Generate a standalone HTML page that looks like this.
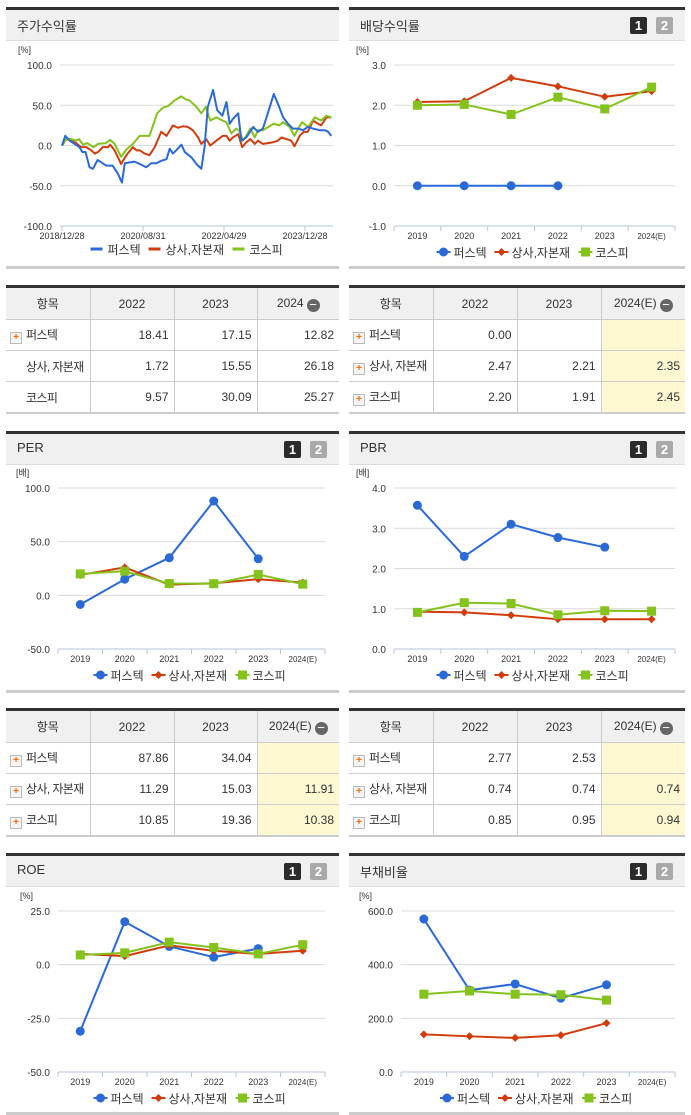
<!DOCTYPE html>
<html><head><meta charset="utf-8">
<style>
body{margin:0;width:691px;height:1115px;background:#fff;position:relative;overflow:hidden;font-family:"Liberation Sans","Noto Sans CJK KR",sans-serif;color:#333}
.panel{position:absolute;box-sizing:border-box;border-top:3px solid #333;border-bottom:3px solid #ccc;background:#fff}
.hdr{height:30px;background:#f0f0f0;border-bottom:1px solid #ddd;position:relative}
.hdr .t{position:absolute;left:11px;top:6px;font-size:13px;color:#333}
.b1,.b2{position:absolute;top:7px;width:17px;height:17px;font-size:13px;font-weight:bold;color:#fff;text-align:center;line-height:17px;border-radius:2px}
.b1{background:#2b2b2b;right:38px}.b2{background:#a9a9a9;right:12px}
table{position:absolute;border-collapse:collapse;font-size:12px;table-layout:fixed;border-top:3px solid #333;border-bottom:2px solid #ccc}
td,th{border:1px solid #ccc;height:30px;padding:0 5px;white-space:nowrap;overflow:hidden}
tr td:first-child,tr th:first-child{border-left:none}
tr td:last-child,tr th:last-child{border-right:none}
th{background:#f0f0f0;font-weight:normal;height:31px}
td{text-align:right}
td.n{text-align:left;padding-left:4px;padding-right:0;letter-spacing:-0.6px}
.pl{display:inline-block;width:10px;height:10px;border:1px solid #bbb;background:#f4f4f4;color:#f60;font-size:10px;line-height:10px;text-align:center;font-weight:bold;margin-right:4px;vertical-align:-1px;letter-spacing:0}
.y{background:#fdf8d2}
.mn{display:inline-block;width:13px;height:13px;border-radius:50%;background:#666;color:#fff;line-height:12px;font-size:13px;text-align:center;vertical-align:-2px;margin-left:3px}
svg{position:absolute;left:0;top:0}
</style></head><body>

<div class="panel" style="left:6px;top:7px;width:333px;height:262px"><div class="hdr"><span class="t">주가수익률</span></div></div>
<div class="panel" style="left:349px;top:7px;width:336px;height:262px"><div class="hdr"><span class="t">배당수익률</span><span class="b1">1</span><span class="b2">2</span></div></div>
<div class="panel" style="left:6px;top:431px;width:333px;height:262px"><div class="hdr"><span class="t">PER</span><span class="b1">1</span><span class="b2">2</span></div></div>
<div class="panel" style="left:349px;top:431px;width:336px;height:262px"><div class="hdr"><span class="t">PBR</span><span class="b1">1</span><span class="b2">2</span></div></div>
<div class="panel" style="left:6px;top:853px;width:333px;height:262px"><div class="hdr"><span class="t">ROE</span><span class="b1">1</span><span class="b2">2</span></div></div>
<div class="panel" style="left:349px;top:853px;width:336px;height:262px"><div class="hdr"><span class="t">부채비율</span><span class="b1">1</span><span class="b2">2</span></div></div>

<table style="left:6px;top:285px;width:333px">
<colgroup><col style="width:84px"><col style="width:84px"><col style="width:83px"><col style="width:82px"></colgroup>
<tr><th>항목</th><th>2022</th><th>2023</th><th>2024<span class="mn">−</span></th></tr>
<tr><td class="n"><span class="pl">+</span>퍼스텍</td><td>18.41</td><td>17.15</td><td>12.82</td></tr>
<tr><td class="n" style="padding-left:20px">상사, 자본재</td><td>1.72</td><td>15.55</td><td>26.18</td></tr>
<tr><td class="n" style="padding-left:20px">코스피</td><td>9.57</td><td>30.09</td><td>25.27</td></tr>
</table>
<table style="left:349px;top:285px;width:336px">
<colgroup><col style="width:84px"><col style="width:84px"><col style="width:84px"><col style="width:84px"></colgroup>
<tr><th>항목</th><th>2022</th><th>2023</th><th>2024(E)<span class="mn">−</span></th></tr>
<tr><td class="n"><span class="pl">+</span>퍼스텍</td><td>0.00</td><td></td><td class="y"></td></tr>
<tr><td class="n"><span class="pl">+</span>상사, 자본재</td><td>2.47</td><td>2.21</td><td class="y">2.35</td></tr>
<tr><td class="n"><span class="pl">+</span>코스피</td><td>2.20</td><td>1.91</td><td class="y">2.45</td></tr>
</table>
<table style="left:6px;top:708px;width:333px">
<colgroup><col style="width:84px"><col style="width:84px"><col style="width:83px"><col style="width:82px"></colgroup>
<tr><th>항목</th><th>2022</th><th>2023</th><th>2024(E)<span class="mn">−</span></th></tr>
<tr><td class="n"><span class="pl">+</span>퍼스텍</td><td>87.86</td><td>34.04</td><td class="y"></td></tr>
<tr><td class="n"><span class="pl">+</span>상사, 자본재</td><td>11.29</td><td>15.03</td><td class="y">11.91</td></tr>
<tr><td class="n"><span class="pl">+</span>코스피</td><td>10.85</td><td>19.36</td><td class="y">10.38</td></tr>
</table>
<table style="left:349px;top:708px;width:336px">
<colgroup><col style="width:84px"><col style="width:84px"><col style="width:84px"><col style="width:84px"></colgroup>
<tr><th>항목</th><th>2022</th><th>2023</th><th>2024(E)<span class="mn">−</span></th></tr>
<tr><td class="n"><span class="pl">+</span>퍼스텍</td><td>2.77</td><td>2.53</td><td class="y"></td></tr>
<tr><td class="n"><span class="pl">+</span>상사, 자본재</td><td>0.74</td><td>0.74</td><td class="y">0.74</td></tr>
<tr><td class="n"><span class="pl">+</span>코스피</td><td>0.85</td><td>0.95</td><td class="y">0.94</td></tr>
</table>

<svg id="charts" width="691" height="1115"></svg>

<script>
// ---- stock return (time series, months since 2018/12/28) ----
const stockTicks = [0, 20, 40, 60];
const stockTickLabels = ["2018/12/28", "2020/08/31", "2022/04/29", "2023/12/28"];
const blueT = [0,0.8,1.9,3.1,4.3,5.0,5.8,6.8,7.6,8.8,10.0,10.9,12.5,13.8,14.8,15.5,16.7,17.9,19.2,20.8,22.0,23.3,24.5,25.8,26.6,27.4,28.2,29.5,30.3,32.0,33.2,34.4,35.2,36.0,37.3,38.3,39.6,40.6,41.4,42.2,43.5,44.3,45.5,47.2,48.4,49.6,50.5,52.3,53.3,54.6,55.8,57.0,58.3,59.5,60.7,62.0,63.6,64.9,65.7,66.5];
const blueV = [0,12,6,2,-2,-8,-8,-27,-29,-18,-22,-25,-25,-35,-46,-22,-21,-20,-23,-27,-22,-22,-19,-17,-4,-10,-6,1,-8,-15,-23,-29,-2,48,69,44,37,54,27,33,40,6,10,23,17,21,35,64,52,35,27,21,21,19,23,21,19,19,17,12];
const redT = [0,1.1,2.3,3.5,4.7,6.0,7.2,8.1,8.9,10.1,11.4,11.9,13.0,14.6,15.9,17.5,18.4,19.2,20.4,21.6,22.9,24.5,25.8,27.4,28.6,29.9,31.1,32.3,33.6,34.4,35.6,36.6,38.1,39.7,40.6,41.4,42.2,43.5,44.5,45.5,46.5,47.6,48.4,49.6,50.9,52.1,53.3,54.2,55.4,56.6,57.4,58.7,59.7,60.7,62.0,63.2,64.0,65.3,66.5];
const redV = [0,8,6,3,-2,-2,-6,-10,-8,-2,-2,1,-6,-23,-12,-2,-6,-6,-10,-12,-2,17,12,25,22,24,23,19,10,2,8,0,6,12,12,6,10,14,-2,4,8,2,6,2,3,4,6,10,8,6,-1,12,17,17,31,27,25,35,35];
const greenT = [0,1.1,2.3,3.5,4.2,5.2,6.2,7.8,8.9,10.8,11.9,13.0,14.6,15.9,17.5,19.2,20.4,21.6,23.5,24.9,26.2,27.8,29.4,30.7,31.5,33.2,34.4,35.5,36.6,38.1,39.6,40.6,41.8,43.0,43.7,44.7,45.5,46.5,47.6,48.4,49.6,50.9,52.3,53.7,54.6,56.2,57.4,58.3,59.3,60.8,62.4,64.0,65.3,66.5];
const greenV = [0,8,8,6,8,1,3,-2,2,3,7,2,-14,-5,2,12,12,12,40,47,49,56,61,57,56,48,40,48,31,35,31,29,15,21,19,6,12,21,10,19,19,23,27,25,29,23,12,21,29,23,35,31,37,35];

// ---- category charts ----
const years = ["2019","2020","2021","2022","2023","2024(E)"];
const divBlue = [0,0,0,0,null,null];
const divRed = [2.08,2.1,2.68,2.47,2.21,2.35];
const divGreen = [2.0,2.02,1.77,2.2,1.91,2.45];
const divTicks = [3,2,1,0,-1];
const perBlue = [-8.5,15,35,87.86,34.04,null];
const perRed = [19,26,10,11.29,15.03,11.91];
const perGreen = [20,22.5,11,10.85,19.36,10.38];
const perTicks = [100,50,0,-50];
const pbrBlue = [3.57,2.3,3.1,2.77,2.53,null];
const pbrRed = [0.93,0.91,0.84,0.74,0.74,0.74];
const pbrGreen = [0.91,1.15,1.13,0.85,0.95,0.94];
const pbrTicks = [4,3,2,1,0];
const roeBlue = [-31,20,8.5,3.5,7.5,null];
const roeRed = [5,4,9,6.5,5,6.5];
const roeGreen = [4.5,5.5,10.5,8,5,9.3];
const roeTicks = [25,0,-25,-50];
const debtBlue = [570,305,328,275,325,null];
const debtRed = [140,133,127,137,182,null];
const debtGreen = [290,302,290,288,268,null];
const debtTicks = [600,400,200,0];

const NS = "http://www.w3.org/2000/svg";
const svg = document.getElementById("charts");
const BLUE="#2a6ad8", RED="#d23c0c", GREEN="#84c21c";
function mk(tag, attrs, parent){const e=document.createElementNS(NS,tag);for(const k in attrs)e.setAttribute(k,attrs[k]);(parent||svg).appendChild(e);return e;}
function txt(x,y,s,size,anchor,parent,fill){const t=mk("text",{x:x,y:y,"font-size":size,"text-anchor":anchor||"start",fill:fill||"#333","font-family":"Liberation Sans, Noto Sans CJK KR, sans-serif"},parent);t.textContent=s;return t;}

function axesY(g,L,R,yTop,yBot,ticks,fmt,unit){
  const min=ticks[ticks.length-1], max=ticks[0];
  const ys=v=>yBot-(v-min)/(max-min)*(yBot-yTop);
  ticks.forEach(v=>{
    const gl=mk("line",{x1:L,x2:R,y1:ys(v),y2:ys(v),stroke:v===min?"#b8c4d8":"#dcdcdc","stroke-width":1},g);
    
    
    const tl=txt(L-8,ys(v)+4,fmt(v),10,"end",g,"#333");
    
    
  });
  const u=txt(L-42+(fmt(max).length>4?0:4),yTop-12,unit,9,"start",g);
  
  
  return ys;
}
function legend(g,cx,y,kind){
  const items=[["퍼스텍",BLUE,"c"],["상사,자본재",RED,"d"],["코스피",GREEN,"s"]];
  const widths=[50,76,46]; let x=cx-(widths[0]+widths[1]+widths[2]+16)/2;
  items.forEach((it,i)=>{
    const lg=mk("g",{},g);
    
    
    if(kind==="line"){mk("line",{x1:x,x2:x+12,y1:y,y2:y,stroke:it[1],"stroke-width":3},lg);}
    else{mk("line",{x1:x,x2:x+14,y1:y,y2:y,stroke:it[1],"stroke-width":2},lg);marker(lg,x+7,y,it[2],it[1]);}
    txt(x+17,y+5,it[0],12,"start",lg,"#333");
    x+=widths[i]+8;
  });
}
function marker(g,x,y,k,c){
  if(k==="c")return mk("circle",{cx:x,cy:y,r:4.5,fill:c},g);
  if(k==="d")return mk("path",{d:`M${x} ${y-4}L${x+4} ${y}L${x} ${y+4}L${x-4} ${y}Z`,fill:c},g);
  return mk("rect",{x:x-4.5,y:y-4.5,width:9,height:9,fill:c},g);
}
function catChart(name,L,R,yTop,yBot,ticks,fmt,unit,series){
  const g=mk("g",{});
  
  
  const ys=axesY(g,L,R,yTop,yBot,ticks,fmt,unit);
  const band=(R-L)/years.length;
  const xs=i=>L+band*(i+0.5);
  for(let i=0;i<=years.length;i++){mk("line",{x1:L+band*i,x2:L+band*i,y1:yBot,y2:yBot+5,stroke:"#b8c4d8"},g);}
  years.forEach((y,i)=>{const t=txt(xs(i),yBot+13,y,y.length>4?8:9,"middle",g);
    
    });
  series.forEach(([vals,c,k,sname])=>{
    const pts=vals.map((v,i)=>v==null?null:[xs(i),ys(v)]).filter(p=>p);
    const pl=mk("polyline",{points:pts.map(p=>p.join(",")).join(" "),fill:"none",stroke:c,"stroke-width":2},g);
    
    
    vals.forEach((v,i)=>{if(v==null)return;const m=marker(g,xs(i),ys(v),k,c);
      
      });
  });
  legend(g,(L+R)/2-4,yBot+26,"marker");
}
const f1=v=>v.toFixed(1);
const S=(b,r,gr)=>[[b,BLUE,"c","perstech"],[r,RED,"d","industry"],[gr,GREEN,"s","kospi"]];
catChart("dividend-chart",394,675,65,226,divTicks,f1,"[%]",S(divBlue,divRed,divGreen));
catChart("per-chart",58,325,488,649,perTicks,f1,"[배]",S(perBlue,perRed,perGreen));
catChart("pbr-chart",394,675,488,649,pbrTicks,f1,"[배]",S(pbrBlue,pbrRed,pbrGreen));
catChart("roe-chart",58,325,911,1072,roeTicks,f1,"[%]",S(roeBlue,roeRed,roeGreen));
catChart("debt-chart",401,675,911,1072,debtTicks,f1,"[%]",S(debtBlue,debtRed,debtGreen));

// stock chart
(function(){
  const g=mk("g",{});
  
  
  const L=60,R=333,yTop=65,yBot=226;
  const ys=axesY(g,L,R,yTop,yBot,[100,50,0,-50,-100],f1,"[%]");
  const xs=m=>62+m*4.05;
  stockTicks.forEach((m,i)=>{
    mk("line",{x1:xs(m),x2:xs(m),y1:yBot,y2:yBot+5,stroke:"#b8c4d8"},g);
    const t=txt(xs(m),yBot+13,stockTickLabels[i],9,"middle",g);
    
    
  });
  [[redT,redV,RED,"industry"],[greenT,greenV,GREEN,"kospi"],[blueT,blueV,BLUE,"perstech"]].forEach(([T,V,c,n])=>{
    const pl=mk("polyline",{points:T.map((t,i)=>xs(t)+","+ys(V[i])).join(" "),fill:"none",stroke:c,"stroke-width":2,"stroke-linejoin":"round"},g);
    
    
  });
  legend(g,(L+R)/2-12,249,"line");
})();
</script>
</body></html>
